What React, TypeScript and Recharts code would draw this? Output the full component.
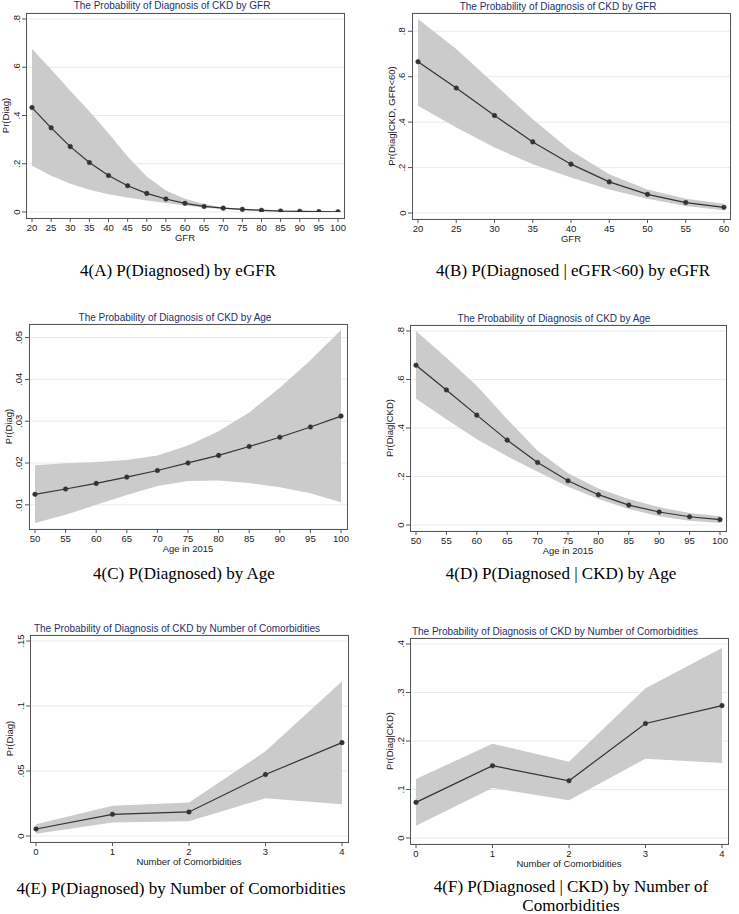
import React from 'react';
import { ComposedChart, Area, Line, XAxis, YAxis, CartesianGrid } from 'recharts';

// ---------- DATA ----------
// Panel A: P(Diagnosed) by eGFR
const gfrA = [20, 25, 30, 35, 40, 45, 50, 55, 60, 65, 70, 75, 80, 85, 90, 95, 100];
const probA = [0.433, 0.349, 0.271, 0.205, 0.151, 0.109, 0.077, 0.054, 0.036, 0.023, 0.016, 0.011, 0.007, 0.004, 0.003, 0.0015, 0.001];
const upperA = [0.676, 0.591, 0.503, 0.418, 0.326, 0.23, 0.147, 0.089, 0.055, 0.033, 0.019, 0.015, 0.01, 0.007, 0.005, 0.003, 0.002];
const lowerA = [0.192, 0.15, 0.117, 0.092, 0.074, 0.06, 0.048, 0.037, 0.027, 0.018, 0.012, 0.008, 0.005, 0.003, 0.002, 0.001, 0.0005];

// Panel B: P(Diagnosed | eGFR<60) by eGFR
const gfrB = [20, 25, 30, 35, 40, 45, 50, 55, 60];
const probB = [0.666, 0.55, 0.429, 0.313, 0.215, 0.137, 0.082, 0.046, 0.025];
const upperB = [0.854, 0.722, 0.568, 0.413, 0.274, 0.171, 0.104, 0.063, 0.041];
const lowerB = [0.472, 0.376, 0.288, 0.215, 0.156, 0.104, 0.063, 0.031, 0.012];

// Panel C: P(Diagnosed) by Age
const ageC = [50, 55, 60, 65, 70, 75, 80, 85, 90, 95, 100];
const probC = [0.01252, 0.01379, 0.01513, 0.01663, 0.01821, 0.02002, 0.02183, 0.02396, 0.02617, 0.02862, 0.03122];
const upperC = [0.01947, 0.01994, 0.02026, 0.02073, 0.02183, 0.0242, 0.0276, 0.0321, 0.038, 0.04456, 0.05181];
const lowerC = [0.00566, 0.00763, 0.01, 0.01237, 0.0145, 0.01568, 0.01584, 0.01521, 0.01418, 0.01276, 0.01063];

// Panel D: P(Diagnosed | CKD) by Age
const ageD = [50, 55, 60, 65, 70, 75, 80, 85, 90, 95, 100];
const probD = [0.659, 0.557, 0.453, 0.35, 0.258, 0.1825, 0.125, 0.082, 0.0535, 0.034, 0.022];
const upperD = [0.8, 0.69, 0.574, 0.436, 0.306, 0.213, 0.151, 0.107, 0.073, 0.0494, 0.036];
const lowerD = [0.521, 0.436, 0.354, 0.283, 0.22, 0.158, 0.107, 0.066, 0.036, 0.018, 0.008];

// Panel E: P(Diagnosed) by Number of Comorbidities
const comE = [0, 1, 2, 3, 4];
const probE = [0.0054, 0.0167, 0.0185, 0.0473, 0.0718];
const upperE = [0.009, 0.0232, 0.0257, 0.0651, 0.119];
const lowerE = [0.0018, 0.0103, 0.0113, 0.0291, 0.0244];

// Panel F: P(Diagnosed | CKD) by Number of Comorbidities
const comF = [0, 1, 2, 3, 4];
const probF = [0.0735, 0.149, 0.118, 0.236, 0.273];
const upperF = [0.1217, 0.1945, 0.157, 0.309, 0.392];
const lowerF = [0.0254, 0.103, 0.0777, 0.1636, 0.1546];

// Ticks
const xTicksA = [20, 25, 30, 35, 40, 45, 50, 55, 60, 65, 70, 75, 80, 85, 90, 95, 100];
const xTicksB = [20, 25, 30, 35, 40, 45, 50, 55, 60];
const xTicksAge = [50, 55, 60, 65, 70, 75, 80, 85, 90, 95, 100];
const xTicksCom = [0, 1, 2, 3, 4];
const yTicksA = [0, 0.2, 0.4, 0.6, 0.8];
const yTicksB = [0, 0.2, 0.4, 0.6, 0.8];
const yTicksC = [0.01, 0.02, 0.03, 0.04, 0.05];
const yTicksD = [0, 0.2, 0.4, 0.6, 0.8];
const yTicksE = [0, 0.05, 0.1, 0.15];
const yTicksF = [0, 0.1, 0.2, 0.3, 0.4];

// ---------- STYLE ----------
const SANS = '"Liberation Sans", Arial, sans-serif';
const SERIF = '"Liberation Serif", "Times New Roman", serif';
const FRAME = '#555555';
const GRID = '#e3ecee';
const BAND = '#cbcbcb';
const LINE = '#333333';
const TITLE = '#22306e';
const TEXT = '#222222';

const fmt = (v: number) => (v === 0 ? '0' : String(+v.toFixed(4)).replace(/^0\./, '.'));

const YTick = (props: any) => {
  const { x, y, payload } = props;
  const cx = x - 4;
  return (
    <text
      x={cx}
      y={y}
      transform={`rotate(-90 ${cx} ${y})`}
      textAnchor="middle"
      dominantBaseline="central"
      fontSize={9.5}
      fill={TEXT}
      fontFamily={SANS}
    >
      {fmt(payload.value)}
    </text>
  );
};

type PanelProps = {
  frame: [number, number, number, number];
  xs: number[];
  ps: number[];
  los: number[];
  his: number[];
  xTicks: number[];
  yTicks: number[];
  yDomain: [number, number];
  title: string;
  titleX: number;
  titleY: number;
  xLabel: string;
  yLabel: string;
};

function Panel(p: PanelProps) {
  const data = p.xs.map((x, i) => ({ x, p: p.ps[i], band: [p.los[i], p.his[i]] }));
  const [x0, y0, x1, y1] = p.frame;
  const W = x1 - x0 + 40;
  const H = y1 - y0 + 42;
  return (
    <>
      <div style={{ position: 'absolute', left: x0 - 30, top: y0 - 10 }}>
        <ComposedChart width={W} height={H} data={data} margin={{ top: 10, right: 10, bottom: 0, left: 0 }}>
          <CartesianGrid vertical={false} stroke={GRID} strokeWidth={1} />
          <XAxis
            dataKey="x"
            type="number"
            domain={[p.xTicks[0], p.xTicks[p.xTicks.length - 1]]}
            ticks={p.xTicks}
            interval={0}
            padding={{ left: 6, right: 6 }}
            axisLine={false}
            tickSize={4}
            tickLine={{ stroke: FRAME }}
            tick={{ fontSize: 9.5, fill: TEXT, fontFamily: SANS }}
            height={32}
            label={{ value: p.xLabel, position: 'insideTop', offset: 16, fontSize: 9.5, fill: TEXT, fontFamily: SANS }}
          />
          <YAxis
            type="number"
            domain={p.yDomain}
            ticks={p.yTicks}
            interval={0}
            padding={{ top: 6, bottom: 6 }}
            axisLine={false}
            tickSize={4}
            tickLine={{ stroke: FRAME }}
            tick={<YTick />}
            width={30}
            allowDataOverflow
            label={{
              value: p.yLabel,
              angle: -90,
              position: 'insideLeft',
              offset: 10,
              fontSize: 9.5,
              fill: TEXT,
              fontFamily: SANS,
              style: { textAnchor: 'middle' },
            }}
          />
          <Area
            dataKey="band"
            type="linear"
            stroke="none"
            fill={BAND}
            fillOpacity={1}
            isAnimationActive={false}
            activeDot={false}
          />
          <Line
            dataKey="p"
            type="linear"
            stroke={LINE}
            strokeWidth={1.2}
            dot={{ r: 2.3, fill: LINE, stroke: LINE, strokeWidth: 0.5 }}
            activeDot={false}
            isAnimationActive={false}
          />
        </ComposedChart>
      </div>
      <div
        style={{
          position: 'absolute',
          left: x0,
          top: y0,
          width: x1 - x0 + 1,
          height: y1 - y0 + 1,
          border: `1px solid ${FRAME}`,
          boxSizing: 'border-box',
          pointerEvents: 'none',
        }}
      />
      <div
        style={{
          position: 'absolute',
          left: p.titleX - 200,
          top: p.titleY - 6,
          width: 400,
          lineHeight: '12px',
          textAlign: 'center',
          fontFamily: SANS,
          fontSize: 10,
          color: TITLE,
          whiteSpace: 'nowrap',
        }}
      >
        {p.title}
      </div>
    </>
  );
}

const Caption = ({ cx, top, width, text }: { cx: number; top: number; width: number; text: string }) => (
  <div
    style={{
      position: 'absolute',
      left: cx - width / 2,
      top,
      width,
      textAlign: 'center',
      fontFamily: SERIF,
      fontSize: 17,
      lineHeight: '18.5px',
      color: '#000',
    }}
  >
    {text}
  </div>
);

export default function App() {
  return (
    <div style={{ position: 'absolute', left: 0, top: 0, width: 739, height: 914, background: '#fff', overflow: 'hidden' }}>
      <Panel
        frame={[26, 13, 344, 218]}
        xs={gfrA}
        ps={probA}
        los={lowerA}
        his={upperA}
        xTicks={xTicksA}
        yTicks={yTicksA}
        yDomain={[0, 0.8]}
        title="The Probability of Diagnosis of CKD by GFR"
        titleX={172}
        titleY={6}
        xLabel="GFR"
        yLabel="Pr(Diag)"
      />
      <Panel
        frame={[412, 13, 730, 219]}
        xs={gfrB}
        ps={probB}
        los={lowerB}
        his={upperB}
        xTicks={xTicksB}
        yTicks={yTicksB}
        yDomain={[0, Math.max(...upperB)]}
        title="The Probability of Diagnosis of CKD by GFR"
        titleX={558}
        titleY={6.5}
        xLabel="GFR"
        yLabel="Pr(Diag|CKD, GFR<60)"
      />
      <Panel
        frame={[29, 324, 347, 529]}
        xs={ageC}
        ps={probC}
        los={lowerC}
        his={upperC}
        xTicks={xTicksAge}
        yTicks={yTicksC}
        yDomain={[Math.min(...lowerC), Math.max(...upperC)]}
        title="The Probability of Diagnosis of CKD by Age"
        titleX={175}
        titleY={318}
        xLabel="Age in 2015"
        yLabel="Pr(Diag)"
      />
      <Panel
        frame={[410, 325, 726, 531]}
        xs={ageD}
        ps={probD}
        los={lowerD}
        his={upperD}
        xTicks={xTicksAge}
        yTicks={yTicksD}
        yDomain={[0, 0.8]}
        title="The Probability of Diagnosis of CKD by Age"
        titleX={554}
        titleY={319}
        xLabel="Age in 2015"
        yLabel="Pr(Diag|CKD)"
      />
      <Panel
        frame={[30, 635, 348, 842]}
        xs={comE}
        ps={probE}
        los={lowerE}
        his={upperE}
        xTicks={xTicksCom}
        yTicks={yTicksE}
        yDomain={[0, 0.15]}
        title="The Probability of Diagnosis of CKD by Number of Comorbidities"
        titleX={177}
        titleY={629}
        xLabel="Number of Comorbidities"
        yLabel="Pr(Diag)"
      />
      <Panel
        frame={[410, 638, 728, 844]}
        xs={comF}
        ps={probF}
        los={lowerF}
        his={upperF}
        xTicks={xTicksCom}
        yTicks={yTicksF}
        yDomain={[0, 0.4]}
        title="The Probability of Diagnosis of CKD by Number of Comorbidities"
        titleX={555}
        titleY={632}
        xLabel="Number of Comorbidities"
        yLabel="Pr(Diag|CKD)"
      />
      <Caption cx={178} top={261.7} width={400} text="4(A) P(Diagnosed) by eGFR" />
      <Caption cx={573} top={261.7} width={400} text="4(B) P(Diagnosed | eGFR<60) by eGFR" />
      <Caption cx={184} top={565} width={400} text="4(C) P(Diagnosed) by Age" />
      <Caption cx={561} top={565} width={400} text="4(D) P(Diagnosed | CKD) by Age" />
      <Caption cx={181} top={880} width={400} text="4(E) P(Diagnosed) by Number of Comorbidities" />
      <Caption cx={571} top={878.3} width={290} text="4(F) P(Diagnosed | CKD) by Number of Comorbidities" />
    </div>
  );
}
